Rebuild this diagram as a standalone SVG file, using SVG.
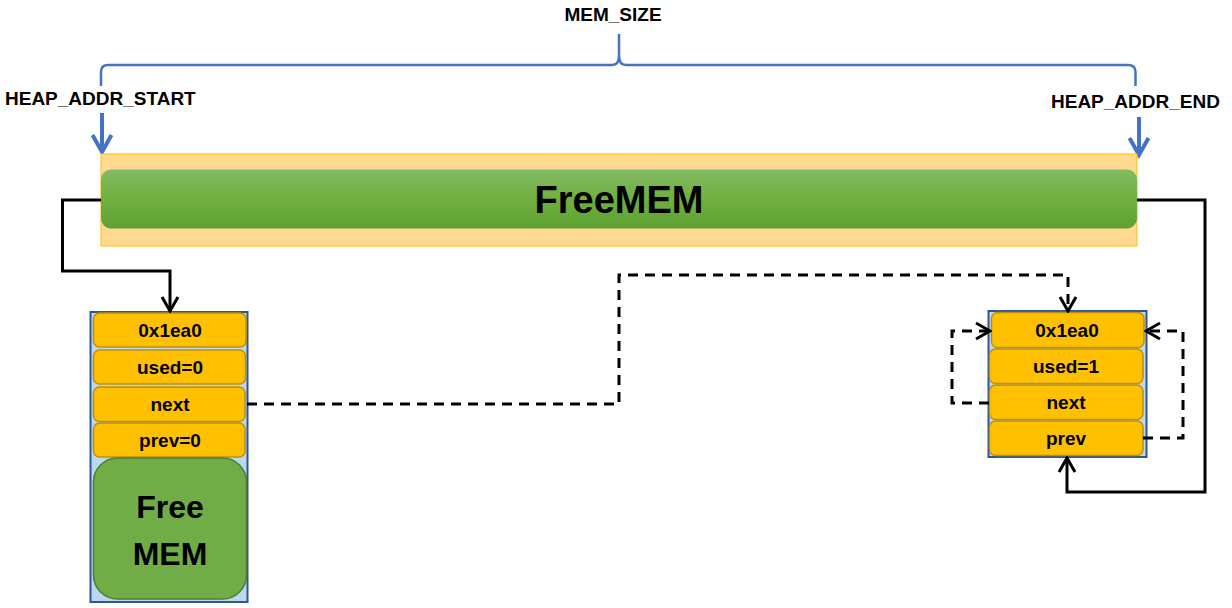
<svg xmlns="http://www.w3.org/2000/svg" width="1232" height="608" viewBox="0 0 1232 608">
<style>
text{font-family:"Liberation Sans",Arial,sans-serif;font-weight:bold;fill:#000}
.lbl{font-size:19px}
.row{font-size:19px;text-anchor:middle}
.big{font-size:32px;text-anchor:middle}
.blue{fill:none;stroke:#4472C4;stroke-width:2.5}
.barrow{fill:none;stroke:#4472C4;stroke-width:4}
.solid{fill:none;stroke:#000;stroke-width:3}
.dash{fill:none;stroke:#000;stroke-width:3;stroke-dasharray:10 7}
.outer{fill:#BDD7EE;stroke:#2F5597;stroke-width:2}
.cell{fill:#FFC000;stroke:#BF9000;stroke-width:1.5}
.green{fill:#70AD47;stroke:#507E32;stroke-width:1.5}
</style>
<defs>
<linearGradient id="gbar" x1="0" y1="0" x2="0" y2="1">
<stop offset="0" stop-color="#83BA63"/>
<stop offset="0.5" stop-color="#6FB03F"/>
<stop offset="1" stop-color="#5FA033"/>
</linearGradient>
<marker id="ah" viewBox="-16 -10 18 20" refX="0" refY="0" markerWidth="18" markerHeight="20" markerUnits="userSpaceOnUse" orient="auto">
<path d="M-14,-8 L0,0 L-14,8" fill="none" stroke="#000" stroke-width="3" stroke-dasharray="none"/>
</marker>
</defs>

<g id="mem-size">
<text class="lbl" x="613" y="21" text-anchor="middle">MEM_SIZE</text>
<path class="blue" d="M101,86 L101,72 Q101,65 108,65 L612,65 Q619,65 619,56 L619,34 L619,56 Q619,65 626,65 L1128,65 Q1135.5,65 1135.5,72 L1135.5,86"/>
</g>

<g id="heap-start">
<text class="lbl" x="5" y="105">HEAP_ADDR_START</text>
<path class="barrow" d="M102,113 L102,152 M92.5,135 L102,152 L111.5,135"/>
</g>

<g id="heap-end">
<text class="lbl" x="1051" y="108">HEAP_ADDR_END</text>
<path class="barrow" d="M1139,117 L1139,155 M1129.5,138 L1139,155 L1148.5,138"/>
</g>

<g id="heap">
<rect x="101" y="154" width="1036" height="92" fill="#FFD98F" stroke="#FFC000" stroke-width="1"/>
<rect x="101" y="169.5" width="1036" height="59" rx="10" fill="url(#gbar)"/>
<text x="619" y="213" font-size="38" text-anchor="middle">FreeMEM</text>
</g>

<g id="block-free">
<rect class="outer" x="90.5" y="312" width="157" height="290"/>
<rect class="cell" x="93.5" y="313" width="152.5" height="34" rx="6"/>
<rect class="cell" x="93.5" y="350" width="152" height="34" rx="6"/>
<rect class="cell" x="93.5" y="387" width="151.5" height="34.5" rx="6"/>
<rect class="cell" x="93.5" y="423" width="151.5" height="34" rx="6"/>
<rect class="green" x="93.5" y="458" width="153" height="141" rx="24"/>
<text class="row" x="170" y="337">0x1ea0</text>
<text class="row" x="170" y="374">used=0</text>
<text class="row" x="170" y="411">next</text>
<text class="row" x="170" y="447">prev=0</text>
<text class="big" x="170" y="518">Free</text>
<text class="big" x="170" y="565">MEM</text>
</g>

<g id="block-used">
<rect class="outer" x="988.5" y="311" width="158" height="146"/>
<rect class="cell" x="991.5" y="312.5" width="152.5" height="35" rx="6"/>
<rect class="cell" x="989.5" y="349" width="153.5" height="34.5" rx="6"/>
<rect class="cell" x="989.5" y="385" width="153.5" height="34.5" rx="6"/>
<rect class="cell" x="989.5" y="421" width="153.5" height="34.5" rx="6"/>
<text class="row" x="1067" y="337">0x1ea0</text>
<text class="row" x="1066" y="373">used=1</text>
<text class="row" x="1066" y="409">next</text>
<text class="row" x="1066" y="445">prev</text>
</g>

<g id="connectors">
<path class="solid" d="M101,200 H62.5 V271 H170 V311" marker-end="url(#ah)"/>
<path class="solid" d="M1137,200 H1205 V492 H1067 V458" marker-end="url(#ah)"/>
<path class="dash" d="M247,404 H619 V275 H1068 V311" marker-end="url(#ah)"/>
<path class="dash" d="M989,403 H952 V331 H990" marker-end="url(#ah)"/>
<path class="dash" d="M1143,438 H1183 V331 H1146" marker-end="url(#ah)"/>
</g>
</svg>
